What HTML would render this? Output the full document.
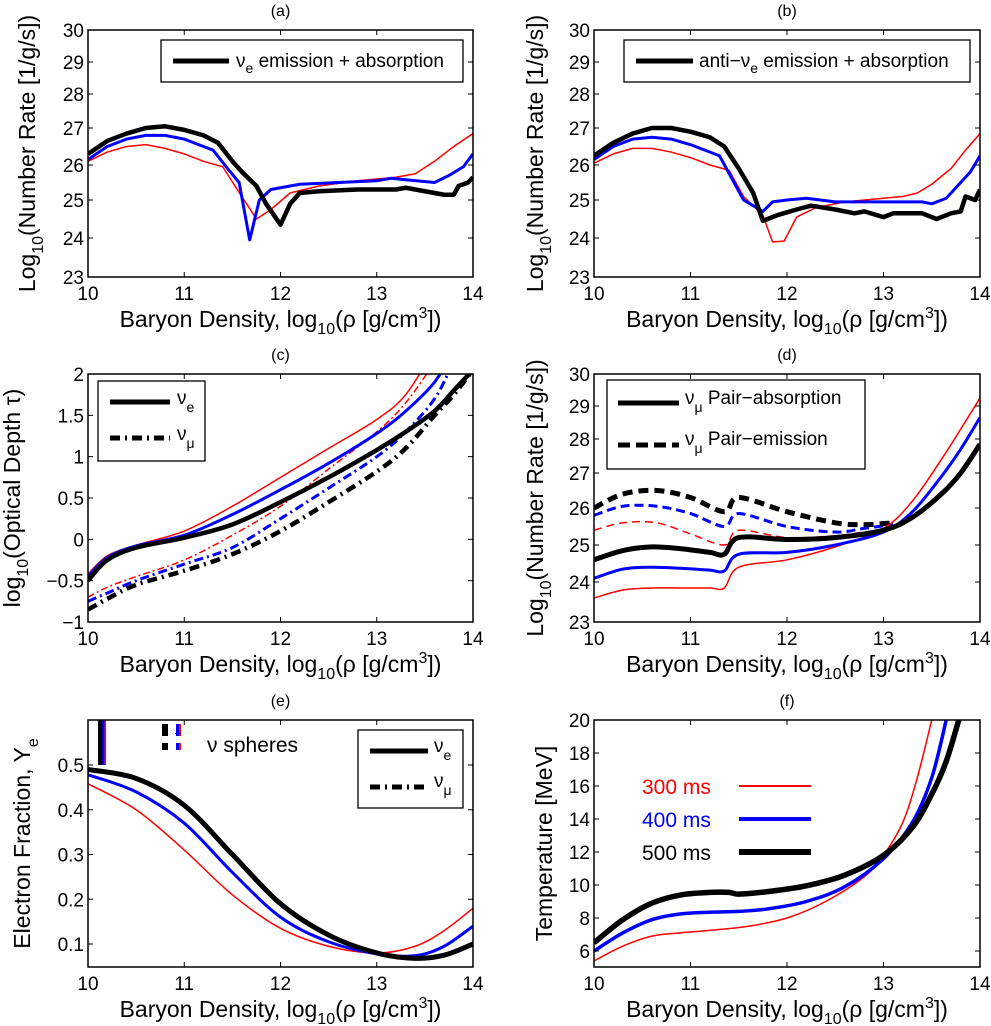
<!DOCTYPE html>
<html><head><meta charset="utf-8"><style>
html,body{margin:0;padding:0;background:#fff;}
svg{display:block;font-family:"Liberation Sans",sans-serif;}
</style></head><body>
<svg id="fig" width="991" height="1026" viewBox="0 0 991 1026" xmlns="http://www.w3.org/2000/svg"></svg>
<script>
// ---------- data ----------
// panel a
const aBlackX=[10,10.2,10.4,10.6,10.8,11.0,11.2,11.35,11.5,11.6,11.75,11.85,12.0,12.1,12.2,12.4,12.8,13.2,13.3,13.5,13.7,13.8,13.85,13.95,14];
const aBlackY=[26.3,26.65,26.85,27.0,27.05,26.95,26.8,26.6,26.1,25.8,25.4,24.9,24.35,24.9,25.2,25.25,25.3,25.3,25.35,25.25,25.15,25.15,25.4,25.5,25.65];
const aBlueX=[10,10.2,10.4,10.6,10.8,11.0,11.2,11.3,11.45,11.57,11.68,11.78,11.9,12.2,12.6,13.0,13.15,13.3,13.6,13.75,13.9,14];
const aBlueY=[26.15,26.5,26.7,26.8,26.8,26.7,26.5,26.4,25.9,25.5,23.95,25.0,25.3,25.45,25.5,25.55,25.62,25.58,25.5,25.7,25.95,26.3];
const aRedX=[10,10.2,10.4,10.6,10.8,11.0,11.2,11.4,11.55,11.75,11.9,12.1,12.4,12.8,13.2,13.4,13.6,13.8,14];
const aRedY=[26.1,26.35,26.5,26.55,26.45,26.3,26.1,25.95,25.3,24.5,24.75,25.2,25.4,25.55,25.65,25.75,26.1,26.5,26.85];
// panel b
const bBlackX=[10,10.2,10.4,10.6,10.8,11.0,11.2,11.35,11.5,11.65,11.75,11.9,12.1,12.25,12.5,12.7,12.8,13.0,13.1,13.4,13.55,13.7,13.8,13.85,13.95,14];
const bBlackY=[26.25,26.6,26.85,27.0,27.0,26.9,26.75,26.5,25.9,25.2,24.45,24.6,24.75,24.85,24.75,24.65,24.7,24.55,24.65,24.65,24.5,24.65,24.7,25.1,25.0,25.3];
const bBlueX=[10,10.2,10.4,10.6,10.8,11.0,11.3,11.55,11.75,11.85,12.0,12.2,12.5,12.9,13.1,13.4,13.5,13.65,13.8,13.9,14];
const bBlueY=[26.15,26.5,26.7,26.75,26.7,26.55,26.25,25.0,24.7,24.95,25.0,25.05,24.95,24.95,24.95,24.95,24.9,25.05,25.5,25.8,26.25];
const bRedX=[10,10.2,10.4,10.6,10.8,11.0,11.2,11.4,11.55,11.75,11.85,11.97,12.1,12.3,12.6,13.0,13.2,13.35,13.5,13.7,13.85,14];
const bRedY=[26.05,26.3,26.45,26.45,26.35,26.2,26.0,25.85,25.1,24.6,23.9,23.92,24.55,24.8,24.95,25.05,25.1,25.2,25.45,25.9,26.4,26.85];
// panel c
const cX=[10,10.2,10.5,11,11.5,12,12.5,13,13.3,13.6,13.8,14];
const cBlackE=[-0.5,-0.25,-0.1,0.02,0.18,0.45,0.75,1.08,1.3,1.55,1.8,2.05];
const cBlueE=[-0.45,-0.22,-0.08,0.05,0.3,0.6,0.92,1.28,1.55,1.9,2.3,2.7];
const cRedE=[-0.42,-0.2,-0.07,0.1,0.4,0.75,1.1,1.45,1.75,2.3,2.7,3.1];
const cBlackMu=[-0.85,-0.72,-0.55,-0.38,-0.18,0.1,0.45,0.82,1.1,1.5,1.75,2.05];
const cBlueMu=[-0.75,-0.65,-0.5,-0.3,-0.1,0.25,0.62,1.0,1.3,1.7,2.15,2.6];
const cRedMu=[-0.7,-0.58,-0.45,-0.25,0.05,0.4,0.85,1.3,1.65,2.15,2.6,3.0];
// panel d
const dSolidX=[10,10.3,10.6,10.9,11.2,11.35,11.5,12,12.5,13,13.3,13.6,13.8,14];
const dBlackAbs=[24.6,24.85,24.95,24.9,24.8,24.75,25.2,25.15,25.2,25.4,25.75,26.4,27.0,27.85];
const dBlueAbs=[24.1,24.35,24.4,24.37,24.32,24.3,24.75,24.8,25.0,25.35,25.9,26.9,27.7,28.65];
const dRedAbs=[23.6,23.8,23.85,23.85,23.85,23.85,24.4,24.6,24.95,25.45,26.2,27.4,28.3,29.25];
const dDashX=[10,10.3,10.65,11,11.35,11.5,12,12.5,12.8,13.1];
const dBlackEm=[26.0,26.4,26.5,26.3,25.9,26.3,25.9,25.6,25.55,25.6];
const dBlueEm=[25.8,26.05,26.05,25.85,25.5,25.85,25.5,25.35,25.45,25.55];
const dRedEm=[25.4,25.6,25.6,25.3,25.0,25.4,25.2,25.25,25.35,25.45];
// panel e
const eX=[10,10.5,11,11.5,12,12.5,13,13.4,13.7,14];
const eBlack=[0.49,0.47,0.41,0.30,0.19,0.12,0.08,0.068,0.075,0.10];
const eBlue=[0.478,0.44,0.37,0.26,0.16,0.105,0.078,0.074,0.095,0.14];
const eRed=[0.458,0.40,0.31,0.21,0.135,0.095,0.08,0.095,0.13,0.18];
const eSphereX=[10.13,10.16,10.18];
// panel f
const fBlackX=[10,10.3,10.6,10.9,11.2,11.4,11.5,11.8,12.2,12.6,13,13.3,13.5,13.65,13.78];
const fBlack=[6.5,7.9,8.9,9.4,9.55,9.55,9.45,9.6,9.95,10.6,11.8,13.5,15.5,17.5,20];
const fBlueX=[10,10.3,10.6,10.9,11.2,11.5,11.8,12.2,12.6,13,13.3,13.5,13.65];
const fBlue=[6.0,7.1,7.9,8.25,8.35,8.4,8.55,9.0,9.9,11.6,13.8,16.5,20];
const fRedX=[10,10.3,10.6,10.9,11.2,11.6,12,12.4,12.8,13,13.2,13.35,13.5];
const fRed=[5.4,6.3,6.9,7.1,7.25,7.5,8.0,9.0,10.5,11.8,13.8,16.5,20];
const xTicks=[10,11,12,13,14];
const rateTicks=[23,24,25,26,27,28,29,30];
const tauTicks=[-1,-0.5,0,0.5,1,1.5,2];
const tauLabels=["\u22121","\u22120.5","0","0.5","1","1.5","2"];
const yeTicks=[0.1,0.2,0.3,0.4,0.5];
const tTicks=[6,8,10,12,14,16,18,20];

// ---------- helpers ----------
const NS="http://www.w3.org/2000/svg";
const svg=document.getElementById('fig');
function el(tag,attrs,parent){const e=document.createElementNS(NS,tag);for(const k in attrs)e.setAttribute(k,attrs[k]);(parent||svg).appendChild(e);return e;}
function piecewise(vals,pix){return v=>{for(let i=0;i<vals.length-1;i++){if(v<=vals[i+1]||i===vals.length-2){const t=(v-vals[i])/(vals[i+1]-vals[i]);return pix[i]+t*(pix[i+1]-pix[i]);}}};}
let clipId=0;
function panel(o){
  const g=el('g',{});
  
  
  const sx=v=>o.x0+(v-10)/4*(o.x1-o.x0);
  const sy=piecewise(o.yv,o.yp);
  const id='clip'+(clipId++);
  const cp=el('clipPath',{id:id},g);el('rect',{x:o.x0,y:o.y0,width:o.x1-o.x0,height:o.y1-o.y0},cp);
  const plot=el('g',{'clip-path':'url(#'+id+')'},g);
  
  
  xTicks.forEach(v=>{const x=sx(v);
    el('line',{x1:x,x2:x,y1:o.y1,y2:o.y1-5,stroke:'#000','stroke-width':1},g);
    el('line',{x1:x,x2:x,y1:o.y0,y2:o.y0+5,stroke:'#000','stroke-width':1},g);
    const tl=el('text',{x:x,y:o.y1+23,'text-anchor':'middle','font-size':19},g);tl.textContent=String(v);
    
    
  });
  o.ticks.forEach((v,i)=>{const y=sy(v);
    el('line',{x1:o.x0,x2:o.x0+5,y1:y,y2:y,stroke:'#000','stroke-width':1},g);
    el('line',{x1:o.x1,x2:o.x1-5,y1:y,y2:y,stroke:'#000','stroke-width':1},g);
    const tl=el('text',{x:o.x0-4,y:y+7,'text-anchor':'end','font-size':19},g);tl.textContent=o.tickLabels?o.tickLabels[i]:String(v);
    
    
  });
  const fr=el('rect',{x:o.x0,y:o.y0,width:o.x1-o.x0,height:o.y1-o.y0,fill:'none',stroke:'#000','stroke-width':1.5},g);
  
  
  const ti=el('text',{x:(o.x0+o.x1)/2,y:o.y0-14,'text-anchor':'middle','font-size':16},g);ti.textContent=o.title;
  
  
  const xl=el('text',{x:(o.x0+o.x1)/2,y:o.y1+50,'text-anchor':'middle','font-size':23},g);
  xl.innerHTML='Baryon Density, log<tspan font-size="16" dy="7">10</tspan><tspan dy="-7">(\u03c1 [g/cm</tspan><tspan font-size="16" dy="-9">3</tspan><tspan dy="9">])</tspan>';
  
  
  const yl=el('text',{transform:`translate(${o.ylx},${(o.y0+o.y1)/2}) rotate(-90)`,'text-anchor':'middle','font-size':23},g);
  yl.innerHTML=o.ylabel;
  
  
  return {g,plot,sx,sy};
}
function smoothPath(pts){
  if(pts.length<3)return 'M'+pts.map(p=>p.join(',')).join('L');
  let d='M'+pts[0][0]+','+pts[0][1];
  for(let i=0;i<pts.length-1;i++){
    const p0=pts[Math.max(0,i-1)],p1=pts[i],p2=pts[i+1],p3=pts[Math.min(pts.length-1,i+2)];
    const c1=[p1[0]+(p2[0]-p0[0])/6,p1[1]+(p2[1]-p0[1])/6];
    const c2=[p2[0]-(p3[0]-p1[0])/6,p2[1]-(p3[1]-p1[1])/6];
    d+=`C${c1[0]},${c1[1]} ${c2[0]},${c2[1]} ${p2[0]},${p2[1]}`;
  }
  return d;
}
function series(P,xs,ys,stroke,w,smooth,dash,name){
  const pts=xs.map((x,i)=>[P.sx(x),P.sy(ys[i])]);
  const d=smooth?smoothPath(pts):'M'+pts.map(p=>p.join(',')).join('L');
  const a={d:d,fill:'none',stroke:stroke,'stroke-width':w,'stroke-linejoin':'round'};
  if(dash)a['stroke-dasharray']=dash;
  const p=el('path',a,P.plot);
  
  
  return p;
}
function legendBox(g,x,y,w,h,name){const r=el('rect',{x:x,y:y,width:w,height:h,fill:'#fff',stroke:'#000','stroke-width':1.3},g);
  
  }
function ltext(g,x,y,html,size,fill,name){const t=el('text',{x:x,y:y,'font-size':size||18,fill:fill||'#000'},g);t.innerHTML=html;
  
  return t;}
function lline(g,x1,x2,y,w,stroke,dash,name){const a={x1:x1,x2:x2,y1:y,y2:y,stroke:stroke,'stroke-width':w};if(dash)a['stroke-dasharray']=dash;const l=el('line',a,g);
  
  }
const RED='#ff0000',BLUE='#0000ff',BLK='#000';
const rateYL='Log<tspan font-size="16" dy="8">10</tspan><tspan dy="-8">(Number Rate [1/g/s])</tspan>';
const rateP1=[277,238,200,165,128,94,62,30];
const rateP2=[622,582,545,508,473,439,406,374];

// ---------- panel a ----------
const A=panel({name:'panel-a',title:'(a)',x0:88,x1:473,y0:30,y1:277,yv:rateTicks,yp:rateP1,ticks:rateTicks,ylx:35,ylabel:rateYL});
series(A,aRedX,aRedY,RED,1.5,false,null,'series-300ms');
series(A,aBlueX,aBlueY,BLUE,3,false,null,'series-400ms');
series(A,aBlackX,aBlackY,BLK,4.5,false,null,'series-500ms');
legendBox(A.g,161,40,302,42,'legend');
lline(A.g,173,229,61,5,BLK,null,'legend-line');
ltext(A.g,236,67,'\u03bd<tspan font-size="14" dy="6">e</tspan><tspan dy="-6"> emission + absorption</tspan>',19,null,'legend-entry');

// ---------- panel b ----------
const B=panel({name:'panel-b',title:'(b)',x0:594,x1:980,y0:30,y1:277,yv:rateTicks,yp:rateP1,ticks:rateTicks,ylx:543,ylabel:rateYL});
series(B,bRedX,bRedY,RED,1.5,false,null,'series-300ms');
series(B,bBlueX,bBlueY,BLUE,3,false,null,'series-400ms');
series(B,bBlackX,bBlackY,BLK,4.5,false,null,'series-500ms');
legendBox(B.g,624,40,346,42,'legend');
lline(B.g,636,693,61,5,BLK,null,'legend-line');
ltext(B.g,699,67,'anti\u2212\u03bd<tspan font-size="14" dy="6">e</tspan><tspan dy="-6"> emission + absorption</tspan>',19,null,'legend-entry');

// ---------- panel c ----------
const C=panel({name:'panel-c',title:'(c)',x0:88,x1:473,y0:374,y1:622,yv:[-1,2],yp:[622,374],ticks:tauTicks,tickLabels:tauLabels,ylx:20,ylabel:'log<tspan font-size="16" dy="8">10</tspan><tspan dy="-8">(Optical Depth \u03c4)</tspan>'});
series(C,cX,cRedMu,RED,1.5,true,'7,3,2,3','series-300ms-mu');
series(C,cX,cBlueMu,BLUE,3,true,'9,4,2,4','series-400ms-mu');
series(C,cX,cBlackMu,BLK,4.5,true,'10,5,2,5','series-500ms-mu');
series(C,cX,cRedE,RED,1.5,true,null,'series-300ms-e');
series(C,cX,cBlueE,BLUE,3,true,null,'series-400ms-e');
series(C,cX,cBlackE,BLK,4.5,true,null,'series-500ms-e');
legendBox(C.g,98,381,107,80,'legend');
lline(C.g,110,170,402,5,BLK,null,'legend-line-e');
ltext(C.g,177,404,'\u03bd<tspan font-size="14" dy="8">e</tspan>',19,null,'legend-entry-e');
lline(C.g,110,170,438,5,BLK,'10,5,2,5','legend-line-mu');
ltext(C.g,177,440,'\u03bd<tspan font-size="14" dy="8">\u03bc</tspan>',19,null,'legend-entry-mu');

// ---------- panel d ----------
const D=panel({name:'panel-d',title:'(d)',x0:594,x1:980,y0:374,y1:622,yv:rateTicks,yp:rateP2,ticks:rateTicks,ylx:543,ylabel:rateYL});
series(D,dDashX,dRedEm,RED,1.5,true,'8,5','series-300ms-emission');
series(D,dDashX,dBlueEm,BLUE,3,true,'9,5','series-400ms-emission');
series(D,dDashX,dBlackEm,BLK,5,true,'10,6','series-500ms-emission');
series(D,dSolidX,dRedAbs,RED,1.5,true,null,'series-300ms-absorption');
series(D,dSolidX,dBlueAbs,BLUE,3,true,null,'series-400ms-absorption');
series(D,dSolidX,dBlackAbs,BLK,5,true,null,'series-500ms-absorption');
legendBox(D.g,607,380,258,89,'legend');
lline(D.g,618,679,403,5,BLK,null,'legend-line-absorption');
ltext(D.g,685,404,'\u03bd<tspan font-size="14" dy="8">\u03bc</tspan><tspan dy="-8"> Pair\u2212absorption</tspan>',19,null,'legend-entry-absorption');
lline(D.g,618,679,445,5,BLK,'12,6','legend-line-emission');
ltext(D.g,685,445,'\u03bd<tspan font-size="14" dy="8">\u03bc</tspan><tspan dy="-8"> Pair\u2212emission</tspan>',19,null,'legend-entry-emission');

// ---------- panel e ----------
const E=panel({name:'panel-e',title:'(e)',x0:88,x1:473,y0:720,y1:967,yv:[0.1,0.5],yp:[944,765],ticks:yeTicks,ylx:30,ylabel:'Electron Fraction, Y<tspan font-size="16" dy="8">e</tspan>'});
series(E,eX,eRed,RED,1.5,true,null,'series-300ms');
series(E,eX,eBlue,BLUE,3,true,null,'series-400ms');
series(E,eX,eBlack,BLK,5,true,null,'series-500ms');
[[BLK,5],[BLUE,2.5],[RED,1.5]].forEach((s,i)=>{const x=E.sx(eSphereX[i]);const l=el('line',{x1:x,x2:x,y1:E.sy(0.6),y2:E.sy(0.5),stroke:s[0],'stroke-width':s[1]},E.plot);
  
  });
const sk=el('g',{},E.g);


el('rect',{x:162,y:724,width:6,height:12,fill:BLK},sk);
el('rect',{x:176,y:724,width:3,height:12,fill:BLUE},sk);
el('rect',{x:179,y:724,width:2,height:12,fill:RED},sk);
el('rect',{x:162,y:733,width:6,height:1.5,fill:BLK},sk);
el('rect',{x:175,y:733,width:6,height:1,fill:BLUE},sk);
el('rect',{x:162,y:743,width:6,height:7,fill:BLK},sk);
el('rect',{x:176,y:743,width:3,height:7,fill:BLUE},sk);
el('rect',{x:179,y:743,width:2,height:7,fill:RED},sk);
ltext(E.g,207,752,'\u03bd spheres',21,null,'spheres-label');
legendBox(E.g,358,730,105,78,'legend');
lline(E.g,370,428,751,5,BLK,null,'legend-line-e');
ltext(E.g,434,752,'\u03bd<tspan font-size="14" dy="8">e</tspan>',19,null,'legend-entry-e');
lline(E.g,370,428,787,5,BLK,'10,5,2,5','legend-line-mu');
ltext(E.g,434,787,'\u03bd<tspan font-size="14" dy="8">\u03bc</tspan>',19,null,'legend-entry-mu');

// ---------- panel f ----------
const F=panel({name:'panel-f',title:'(f)',x0:594,x1:980,y0:720,y1:967,yv:[5,20],yp:[967.5,720],ticks:tTicks,ylx:552,ylabel:'Temperature [MeV]'});
series(F,fRedX,fRed,RED,1.5,true,null,'series-300ms');
series(F,fBlueX,fBlue,BLUE,3.5,true,null,'series-400ms');
series(F,fBlackX,fBlack,BLK,5.5,true,null,'series-500ms');
ltext(F.g,642,794,'300 ms',21,RED,'legend-entry-300ms');
lline(F.g,739,811,786,2,RED,null,'legend-line-300ms');
ltext(F.g,642,827,'400 ms',21,BLUE,'legend-entry-400ms');
lline(F.g,739,811,819,4,BLUE,null,'legend-line-400ms');
ltext(F.g,642,860,'500 ms',21,BLK,'legend-entry-500ms');
lline(F.g,739,811,852,6,BLK,null,'legend-line-500ms');
</script>
</body></html>
